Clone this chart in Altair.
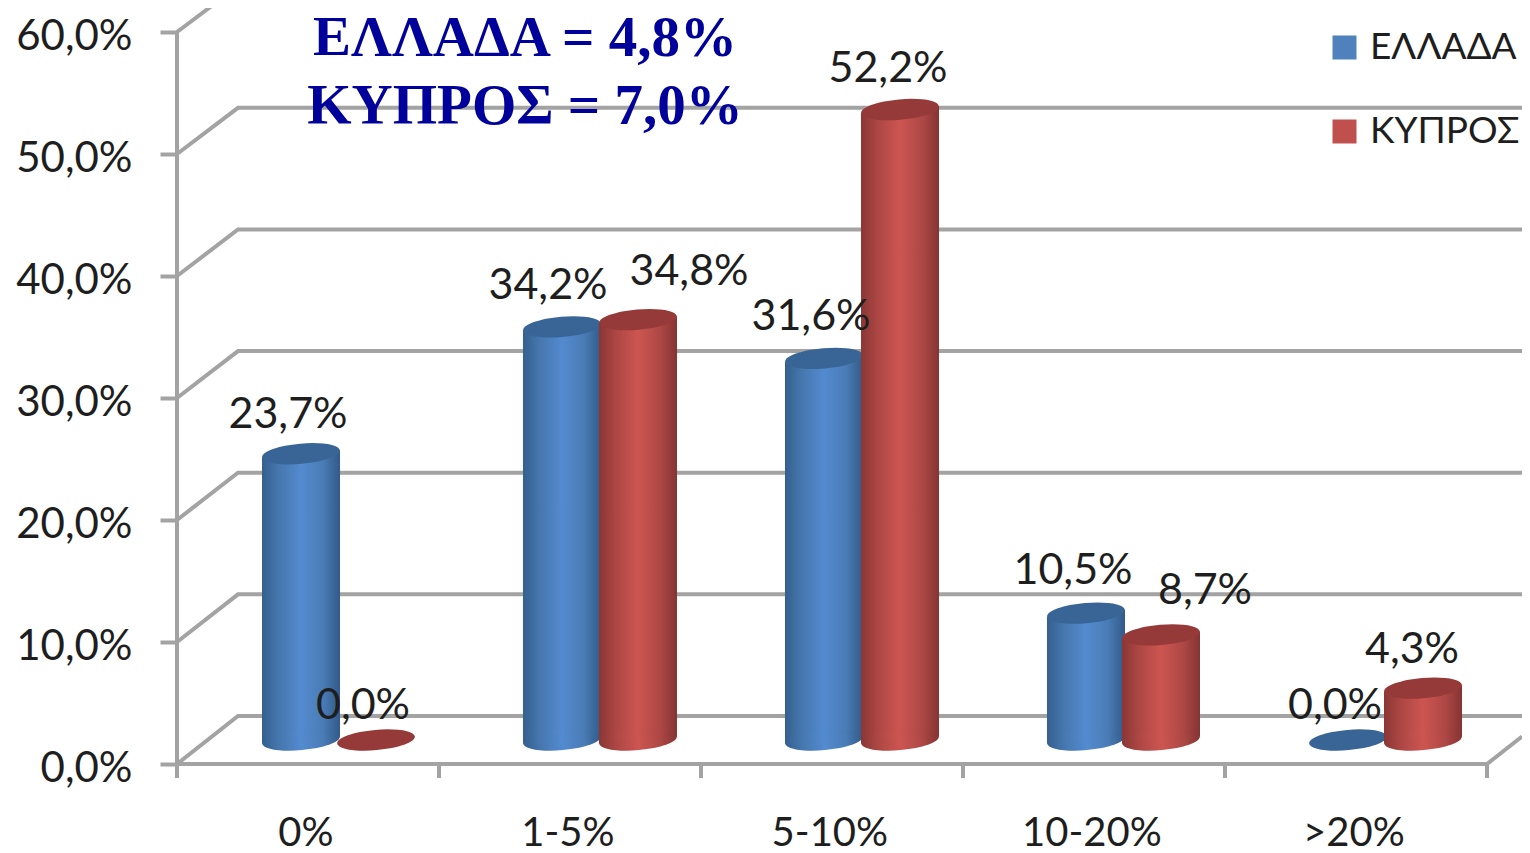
import altair as alt
import pandas as pd

categories = ["0%", "1-5%", "5-10%", "10-20%", ">20%"]
series_names = ["ΕΛΛΑΔΑ", "ΚΥΠΡΟΣ"]
greece = [23.7, 34.2, 31.6, 10.5, 0.0]
cyprus = [0.0, 34.8, 52.2, 8.7, 4.3]
headline = ["ΕΛΛΑΔΑ = 4,8%", "ΚΥΠΡΟΣ = 7,0%"]
y_ticks = [0, 10, 20, 30, 40, 50, 60]

# geometry (page pixels -> data units)
PX_X, PX_Y = 262.0, 12.2
X0, Y0 = 177.0, 764.0
W, H = 1345, 756
XMAX, YMAX = W / PX_X, H / PX_Y
DEPTH_X, DEPTH_Y = 61 / PX_X, 48 / PX_Y
BACK = 0.997
def ux(px): return (px - X0) / PX_X
def uy(px): return (Y0 - px) / PX_Y

GRID = "#a3a3a3"
TXT = "#1e1e1e"
FONT = "Lato"
BASE = 24 / PX_Y
PERSP = 0.99
TILT = 3.4 / PX_Y
centers = {0: [301, 562, 824, 1086, 1348], 1: [376, 638, 900, 1161, 1423]}
label_dx = {0: [-13, -14, -13, -13, -13], 1: [-13, 51, -12, 44, -11]}
label_dy = {0: [39, 41, 41, 42, 34], 1: [34, 48, 41, 44, 38]}

rows, body_rows = [], []
for s, vals in enumerate([greece, cyprus]):
    for i, v in enumerate(vals):
        top = BASE + v * PERSP
        rows.append(dict(series=series_names[s], s=s, cat=categories[i], v=v,
                         xc=ux(centers[s][i]), y0=BASE, ytop=top,
                         lx=ux(centers[s][i] + label_dx[s][i]),
                         ly=top + label_dy[s][i] / PX_Y,
                         label=f"{v:.1f}".replace(".", ",") + "%"))
        if v > 0:
            for side in (-1, 1):
                body_rows.append(dict(s=s, k=f"{s}-{i}", bx=ux(centers[s][i] + side * 39),
                                      b0=BASE + side * TILT, b1=top + side * TILT))
df = pd.DataFrame(rows)
bodies = pd.DataFrame(body_rows)

x_scale = alt.Scale(domain=[0, XMAX], nice=False, zero=False)
y_scale = alt.Scale(domain=[0, YMAX], nice=False, zero=False)
x_axis = alt.Axis(values=[i + 0.49 for i in range(5)], ticks=False, domain=False, grid=False, title=None,
                  labelExpr="['0%','1-5%','5-10%','10-20%','>20%'][floor(datum.value)]",
                  labelFont=FONT, labelFontSize=40, labelColor=TXT, labelPadding=69,
                  labelBaseline="middle", labelOverlap=False)
y_axis = alt.Axis(values=y_ticks, domain=False, grid=False, tickColor=GRID, tickWidth=4, tickSize=17, title=None,
                  labelExpr="replace(format(datum.value,'.1f'),'.',',')+'%'",
                  labelFont=FONT, labelFontSize=42, labelColor=TXT, labelPadding=28, labelOverlap=False,
                  labelOffset=4)
def xq(f): return alt.X(f"{f}:Q", scale=x_scale, axis=x_axis)
def yq(f): return alt.Y(f"{f}:Q", scale=y_scale, axis=y_axis)

# walls / gridlines
lines = []
for t in y_ticks:
    lines += [dict(k=f"g{t}", o=0, x=0, y=t), dict(k=f"g{t}", o=1, x=DEPTH_X, y=t * BACK + DEPTH_Y),
              dict(k=f"g{t}", o=2, x=XMAX, y=t * BACK + DEPTH_Y)]
lines += [dict(k="axis", o=0, x=0, y=0), dict(k="axis", o=1, x=0, y=60)]
lines += [dict(k="floor", o=0, x=0, y=0), dict(k="floor", o=1, x=5, y=0),
          dict(k="floor", o=2, x=XMAX, y=(XMAX - 5) * DEPTH_Y / DEPTH_X)]
for i in range(6):
    lines += [dict(k=f"t{i}", o=0, x=i, y=0), dict(k=f"t{i}", o=1, x=i, y=-14 / PX_Y)]
wall = alt.Chart(pd.DataFrame(lines)).mark_line(color=GRID, strokeWidth=4, clip=False).encode(
    x=xq("x"), y=yq("y"), detail="k:N", order="o:Q")

def grad(stops):
    return alt.Gradient(gradient="linear", x1=0, x2=1, y1=0, y2=0,
                        stops=[alt.GradientStop(offset=o, color=c) for o, c in stops])

blue = grad([(0, "#34608f"), (0.22, "#4677ae"), (0.5, "#538bd0"), (0.78, "#4a7cb6"), (1, "#315a88")])
red = grad([(0, "#8a3735"), (0.22, "#ad4744"), (0.5, "#cd5551"), (0.78, "#ae4845"), (1, "#853433")])
caps = ["#386596", "#953a38"]
ELLIPSE = "M-1,0 A1,0.26 0 1,1 1,0 A1,0.26 0 1,1 -1,0 Z"
SIZE = 78 ** 2

layers = [wall]
for s, g in enumerate([blue, red]):
    d = df[df.s == s]
    layers.append(alt.Chart(bodies[bodies.s == s]).mark_area(fill=g, clip=False, opacity=1).encode(
        x=xq("bx"), y=yq("b1"), y2="b0:Q", detail="k:N"))
    layers.append(alt.Chart(d[d.v > 0]).mark_point(shape=ELLIPSE, filled=True, size=SIZE, angle=355, opacity=1,
                                                   fill=g, stroke=None).encode(x=xq("xc"), y=yq("y0")))
    layers.append(alt.Chart(d).mark_point(shape=ELLIPSE, filled=True, size=SIZE, angle=355, opacity=1,
                                          fill=caps[s], stroke=None).encode(x=xq("xc"), y=yq("ytop")))

layers.append(alt.Chart(df).mark_text(font=FONT, fontSize=43, color=TXT, align="center", baseline="middle").encode(
    x=xq("lx"), y=yq("ly"), text="label:N"))

head = pd.DataFrame(dict(x=[ux(525), ux(525)], y=[uy(39), uy(107)], t=headline))
layers.append(alt.Chart(head).mark_text(font="Liberation Serif", fontWeight="bold", fontSize=57, color="#00009a",
                                        align="center", baseline="middle").encode(
    x=xq("x"), y=yq("y"), text="t:N"))

layers.append(alt.Chart(df).mark_square(size=0, opacity=1).encode(
    x=xq("xc"), y=yq("y0"),
    color=alt.Color("series:N", scale=alt.Scale(domain=series_names, range=["#4f81bd", "#c0504d"]),
                    legend=alt.Legend(title=None, orient="none", legendX=1327 - X0 - 1, legendY=21, columns=1,
                                      symbolType="square", symbolSize=576, symbolOpacity=1, symbolStrokeWidth=0,
                                      labelFont=FONT, labelFontSize=37, labelColor=TXT, labelLimit=400,
                                      labelOffset=7, rowPadding=46))))

chart = alt.layer(*layers).resolve_scale(x="shared", y="shared").properties(
    width=W, height=H, background="white",
    autosize=alt.AutoSizeParams(type="none"),
    padding={"left": 169, "top": 0, "right": 0, "bottom": 89},
).configure_view(stroke=None)

chart.save("out.html", embed_options={"renderer": "svg", "actions": False})
